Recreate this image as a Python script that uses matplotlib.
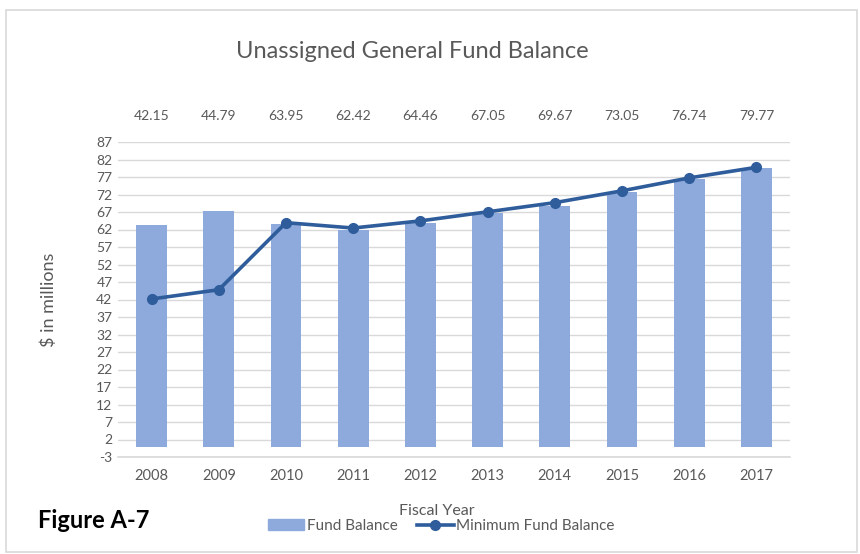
import matplotlib.pyplot as plt
import matplotlib.transforms as mtransforms
from matplotlib.lines import Line2D
from matplotlib.patches import Patch

# fiscal years and balances ($ millions)
years = ["2008", "2009", "2010", "2011", "2012", "2013", "2014", "2015", "2016", "2017"]
fund_balance = [63.2, 67.2, 63.6, 62.0, 64.0, 66.7, 68.8, 72.6, 76.3, 79.6]
minimum_balance = [42.15, 44.79, 63.95, 62.42, 64.46, 67.05, 69.67, 73.05, 76.74, 79.77]
y_ticks = list(range(-3, 88, 5))

plt.rcParams['font.family'] = ['Lato', 'DejaVu Sans']
plt.rcParams['axes.unicode_minus'] = False

bar_color = "#8EA9DB"
line_color = "#2F5D9C"
text_grey = "#595959"
grid_grey = "#D9D9D9"

fig = plt.figure(figsize=(8.6, 5.54), dpi=100)
ax = fig.add_axes([118 / 860, 97 / 554, 672 / 860, 315 / 554])

x = list(range(len(years)))
ax.bar(x, fund_balance, width=0.46, color=bar_color, zorder=2)
ax.plot(x, minimum_balance, color=line_color, lw=2.6, marker="o", markersize=7, zorder=3)

ax.set_xlim(-0.5, len(years) - 0.5)
ax.set_ylim(-3, 87)
ax.set_yticks(y_ticks)
ax.set_xticks(x)
ax.set_xticklabels(years)
ax.grid(axis="y", color=grid_grey, lw=1, zorder=0)
ax.axhline(-3, color=grid_grey, lw=1.2, clip_on=False, zorder=1)
for side in ax.spines:
    ax.spines[side].set_visible(False)
ax.tick_params(length=0, labelsize=10, colors=text_grey, pad=4)
ax.tick_params(axis="x", labelsize=10.5, pad=9)

# values of the minimum balance in a row above the plot
trans = mtransforms.blended_transform_factory(ax.transData, ax.transAxes)
for xi, v in zip(x, minimum_balance):
    ax.text(xi, 1.082, f"{v:.2f}", transform=trans, ha="center", va="center",
            fontsize=10, color=text_grey)

ax.set_ylabel("$ in millions", fontsize=13, color=text_grey, labelpad=28)
fig.text(412 / 860, 1 - 52 / 554, "Unassigned General Fund Balance", ha="center", va="center",
         fontsize=17, color=text_grey)
fig.text(437 / 860, 1 - 511 / 554, "Fiscal Year", ha="center", va="center",
         fontsize=11.5, color=text_grey)
fig.text(38 / 860, 1 - 520 / 554, "Figure A-7", ha="left", va="center",
         fontsize=17, fontweight="bold", color="black")

handles = [Patch(color=bar_color, label="Fund Balance"),
           Line2D([], [], color=line_color, lw=2.6, marker="o", markersize=7,
                  label="Minimum Fund Balance")]
fig.legend(handles=handles, loc="center", bbox_to_anchor=(441 / 860, 1 - 526 / 554),
           ncol=2, frameon=False, fontsize=11, labelcolor=text_grey,
           handlelength=2.4, handletextpad=0.15, columnspacing=1.3)

# light frame around the whole chart
frame = plt.Rectangle((6 / 860, 0.004), 851 / 860, 1 - 10 / 554 - 0.004, transform=fig.transFigure,
                      fill=False, edgecolor=grid_grey, lw=1.2)
fig.patches.append(frame)

fig.savefig("out.png", dpi=100)
